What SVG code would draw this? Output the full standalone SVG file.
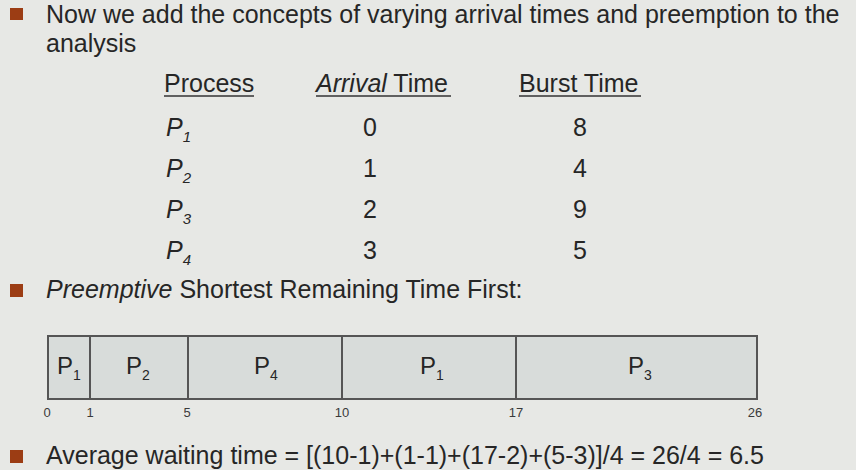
<svg xmlns="http://www.w3.org/2000/svg" width="856" height="470" viewBox="0 0 856 470">
<style>
text{font-family:"Liberation Sans",Arial,sans-serif;fill:#262626}
.t{font-size:25px}
.it{font-style:italic}
.sub{font-size:15px}
.gl{font-size:24px;text-anchor:middle}
.gs{font-size:14px}
.tick{font-size:13px;text-anchor:middle;fill:#3a3a3a}
.num{font-size:25px;text-anchor:middle}
.bul{fill:#9c3d14}
.box{fill:#d8dcda;stroke:#555;stroke-width:2}
.div{stroke:#555;stroke-width:2}
.ul{stroke:#333;stroke-width:1.6}
</style>
<rect width="856" height="470" fill="#e7e8e5"/>
<g id="bullets">
<rect class="bul" x="10" y="8" width="13" height="12"/>
<rect class="bul" x="10" y="284" width="13" height="13"/>
<rect class="bul" x="10" y="450" width="13" height="13"/>
</g>
<g id="intro">
<text class="t" x="46" y="23">Now we add the concepts of varying arrival times and preemption to the</text>
<text class="t" x="46" y="52">analysis</text>
</g>
<g id="table">
<text class="t" x="164" y="92">Process</text>
<text class="t" x="316" y="92"><tspan class="it">Arrival</tspan> Time</text>
<text class="t" x="519" y="92">Burst Time</text>
<line class="ul" x1="164" y1="96" x2="254" y2="96"/>
<line class="ul" x1="316" y1="96" x2="451" y2="96"/>
<line class="ul" x1="519" y1="96" x2="641" y2="96"/>
<text class="t it" x="166" y="136">P<tspan class="sub" dy="6">1</tspan></text>
<text class="t it" x="166" y="177">P<tspan class="sub" dy="6">2</tspan></text>
<text class="t it" x="166" y="218">P<tspan class="sub" dy="6">3</tspan></text>
<text class="t it" x="166" y="259">P<tspan class="sub" dy="6">4</tspan></text>
<text class="num" x="370" y="136">0</text>
<text class="num" x="370" y="177">1</text>
<text class="num" x="370" y="218">2</text>
<text class="num" x="370" y="259">3</text>
<text class="num" x="580" y="136">8</text>
<text class="num" x="580" y="177">4</text>
<text class="num" x="580" y="218">9</text>
<text class="num" x="580" y="259">5</text>
</g>
<g id="heading2">
<text class="t" x="46" y="298"><tspan class="it">Preemptive</tspan> Shortest Remaining Time First:</text>
</g>
<g id="gantt">
<rect class="box" x="48" y="336" width="709" height="63"/>
<line class="div" x1="90" y1="336" x2="90" y2="399"/>
<line class="div" x1="188" y1="336" x2="188" y2="399"/>
<line class="div" x1="342" y1="336" x2="342" y2="399"/>
<line class="div" x1="516" y1="336" x2="516" y2="399"/>
<text class="gl" x="69" y="374">P<tspan class="gs" dy="6">1</tspan></text>
<text class="gl" x="138" y="374">P<tspan class="gs" dy="6">2</tspan></text>
<text class="gl" x="266" y="374">P<tspan class="gs" dy="6">4</tspan></text>
<text class="gl" x="432" y="374">P<tspan class="gs" dy="6">1</tspan></text>
<text class="gl" x="640" y="374">P<tspan class="gs" dy="6">3</tspan></text>
<text class="tick" x="47" y="417">0</text>
<text class="tick" x="90" y="417">1</text>
<text class="tick" x="187" y="417">5</text>
<text class="tick" x="342" y="417">10</text>
<text class="tick" x="516" y="417">17</text>
<text class="tick" x="755" y="417">26</text>
</g>
<g id="average">
<text class="t" x="46" y="464">Average waiting time = [(10-1)+(1-1)+(17-2)+(5-3)]/4 = 26/4 = 6.5</text>
</g>
</svg>
